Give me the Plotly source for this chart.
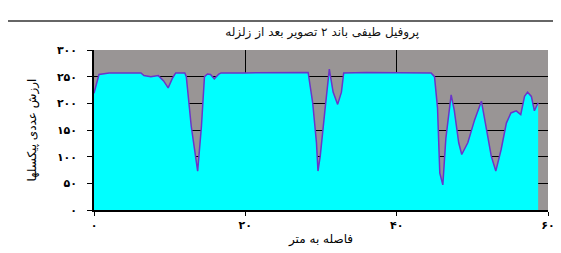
import plotly.graph_objects as go

# distance (m) and pixel values
distance = [0, 0.66, 2, 4, 6.2, 6.6, 7.5, 8.5, 9.2, 9.8, 10.4, 10.8, 12.0, 12.2, 12.85, 13.7,
            14.2, 14.6, 15.0, 15.4, 15.9, 16.5, 16.8, 20, 24, 28.3, 28.9, 29.4, 29.6, 29.9, 30.5,
            31.1, 31.6, 32.2, 32.7, 33.0, 36, 40, 44.55, 45.0, 45.4, 45.7, 46.1, 46.5, 47.0,
            47.2, 47.6, 48.2, 48.6, 49.4, 50.3, 51.2, 51.8, 52.5, 53.1, 53.8, 54.5, 55.1, 55.8,
            56.4, 56.9, 57.3, 57.8, 58.2, 58.7]
pixel_value = [219, 254, 257, 257, 257, 252, 250, 252, 242, 229, 248, 257, 257, 250, 157, 73,
               157, 250, 255, 254, 246, 255, 257, 257, 258, 258, 201, 126, 73, 101, 184,
               264, 221, 198, 221, 257, 258, 258, 257, 250, 191, 69, 47, 134, 201,
               216, 188, 126, 104, 126, 169, 204, 157, 101, 73, 113, 163, 182, 186,
               179, 213, 221, 213, 186, 201]

y_ticks = [0, 50, 100, 150, 200, 250, 300]
y_tick_labels = ["۰", "۵۰", "۱۰۰", "۱۵۰", "۲۰۰", "۲۵۰", "۳۰۰"]
x_ticks = [0, 20, 40, 60]
x_tick_labels = ["۰", "۲۰", "۴۰", "۶۰"]

title_text = "پروفیل طیفی باند ۲ تصویر بعد از زلزله"
x_title = "فاصله به متر"
y_title = "ارزش عددی پیکسلها"

font_family = "DejaVu Sans"

fig = go.Figure()
fig.add_trace(go.Scatter(
    x=distance, y=pixel_value, mode="lines", fill="tozeroy",
    fillcolor="#00FFFF", line=dict(color="#6a35c9", width=1.5),
    hoverinfo="x+y", showlegend=False,
))

fig.update_layout(
    width=561, height=253,
    margin=dict(l=86, r=21, t=42, b=51),
    paper_bgcolor="white", plot_bgcolor="#999595",
    font=dict(family=font_family, color="black"),
    title=dict(text=title_text, x=0.56, xanchor="center",
               y=0.905, yanchor="middle", font=dict(size=12, family=font_family, color="#111")),
    xaxis=dict(range=[0, 60], tickvals=x_ticks,
               ticktext=["<b>" + t + "</b>" for t in x_tick_labels],
               showgrid=True, gridcolor="black", gridwidth=1.2,
               showline=True, linecolor="black", linewidth=1.5,
               ticks="outside", ticklen=4, tickcolor="black",
               tickfont=dict(size=11, family=font_family, color="black"),
               title=dict(text=x_title, font=dict(size=12, family=font_family), standoff=4),
               zeroline=False),
    yaxis=dict(range=[0, 300], tickvals=y_ticks,
               ticktext=["<b>" + t + "</b>" for t in y_tick_labels],
               showgrid=True, gridcolor="black", gridwidth=1.2,
               showline=True, linecolor="black", linewidth=1.5,
               ticks="outside", ticklen=5, tickcolor="black",
               ticklabelstandoff=8,
               tickfont=dict(size=11, family=font_family, color="black"),
               title=dict(text=y_title, font=dict(size=12, family=font_family), standoff=18),
               zeroline=False),
    shapes=[dict(type="line", xref="paper", yref="paper",
                 x0=-0.19, x1=1.05, y0=1.181, y1=1.181,
                 line=dict(color="#333", width=1.5))],
)

fig.write_html("out.html")
